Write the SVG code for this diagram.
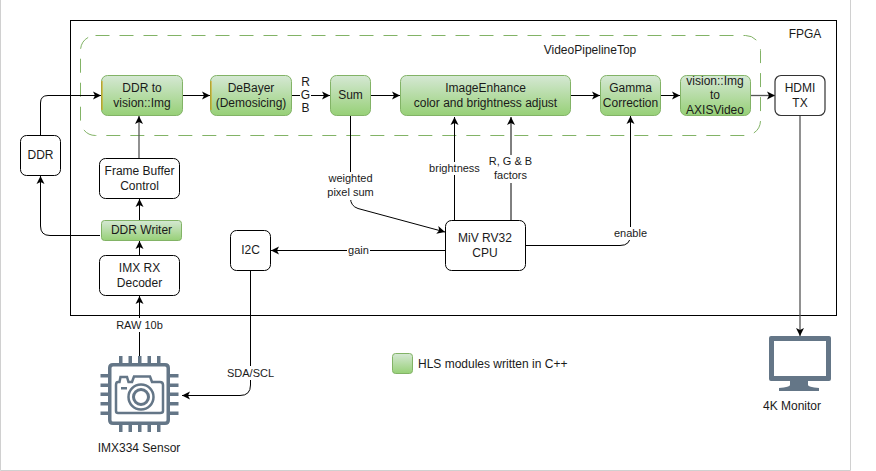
<svg xmlns="http://www.w3.org/2000/svg" width="876" height="471" viewBox="0 0 876 471">
<style>
text{font-family:"Liberation Sans",Arial,sans-serif;font-size:12px;fill:#1a1a1a;text-anchor:middle}
.s{font-size:11px}
.w{fill:#fff;stroke:#000;stroke-width:1}
.g{fill:url(#gr);stroke:#82b366;stroke-width:1}
.c{fill:none;stroke:#000;stroke-width:1;marker-end:url(#a)}
.cg{fill:none;stroke:#555;stroke-width:1.3;marker-end:url(#a)}
.lb{fill:#fff;stroke:none}
.ic{fill:#647687}
.o{fill:none;stroke:#d79b00;stroke-width:1}
</style>
<defs>
<linearGradient id="gr" x1="0" y1="0" x2="0" y2="1"><stop offset="0" stop-color="#d5e8d4"/><stop offset="1" stop-color="#97d077"/></linearGradient>
<marker id="a" markerUnits="userSpaceOnUse" markerWidth="10" markerHeight="10" refX="8" refY="4.5" orient="auto"><path d="M0,0.5 L8,4.5 L0,8.5 L2,4.5 Z" fill="#000"/></marker>
</defs>
<rect width="876" height="471" fill="#fff"/>
<path d="M0.5,0 V470.5 H850.5 V0" fill="none" stroke="#d0d0d0"/>
<g id="fpga"><rect x="70.500" y="20.500" width="766" height="295" fill="#fff" stroke="#000"/><text x="805" y="38">FPGA</text></g>
<g id="pipeline"><rect x="80.500" y="35.500" width="680" height="100" rx="15" fill="none" stroke="#82b366" stroke-dasharray="14 10"/><text x="590" y="53.500">VideoPipelineTop</text></g>
<g id="connectors">
<path class="c" d="M40.500,135 V103 Q40.500,95.500 48,95.500 H101"/>
<path class="c" d="M100,235.500 H50 Q40.500,235.500 40.500,226 V176"/>
<path class="cg" d="M139,158 V116"/>
<path class="c" d="M139.500,220 V199"/>
<path class="c" d="M139.500,255 V241"/>
<path class="c" d="M139.500,356 V296"/>
<path class="c" d="M182.500,95.500 H210"/>
<path class="c" d="M291.500,95.500 H330"/>
<path class="c" d="M370.500,95.500 H400"/>
<path class="c" d="M570.500,95.500 H600"/>
<path class="c" d="M660.500,95.500 H680"/>
<path class="cg" d="M750.500,95.500 H775"/>
<path class="cg" d="M800,115.500 V336"/>
<path class="c" d="M350.500,115.500 V198 Q350.500,206 358,208.500 L445,232"/>
<path class="c" d="M454.500,220 V117"/>
<path class="c" d="M511,220 V117"/>
<path class="c" d="M525.500,245.500 H620 Q630.500,245.500 630.500,235 V116"/>
<path class="c" d="M445,250.500 H271"/>
<path class="c" d="M250.500,270.500 V385 Q250.500,395.500 240,395.500 H182"/>
</g>
<g id="edge-labels">
<rect class="lb" x="300" y="76" width="11" height="37"/>
<text x="305.500" y="86">R</text><text x="305.500" y="99">G</text><text x="305.500" y="112">B</text>
<rect class="lb" x="326" y="172" width="50" height="28"/>
<text class="s" x="350.500" y="182">weighted</text><text class="s" x="350.500" y="196">pixel sum</text>
<rect class="lb" x="428" y="162" width="54" height="13"/>
<text class="s" x="454.500" y="172">brightness</text>
<rect class="lb" x="487" y="155" width="48" height="28"/>
<text class="s" x="510.500" y="165">R, G &amp; B</text><text class="s" x="510.500" y="179">factors</text>
<rect class="lb" x="613" y="227" width="35" height="13"/>
<text class="s" x="630.500" y="237">enable</text>
<rect class="lb" x="347" y="244" width="23" height="13"/>
<text class="s" x="358.500" y="254">gain</text>
<rect class="lb" x="116" y="318" width="48" height="14"/>
<text class="s" x="139.500" y="329">RAW 10b</text>
<rect class="lb" x="226" y="366" width="50" height="14"/>
<text class="s" x="250.500" y="377">SDA/SCL</text>
</g>
<g id="ddr-to-img"><rect class="g" x="101.500" y="75.500" width="81" height="40" rx="6"/><path class="o" d="M102,110 V81"/><text x="142" y="92">DDR to</text><text x="142" y="107">vision::Img</text></g>
<g id="debayer"><rect class="g" x="210.500" y="75.500" width="81" height="40" rx="6"/><path class="o" d="M211,110 V81"/><text x="251" y="92">DeBayer</text><text x="251" y="107">(Demosicing)</text></g>
<g id="sum"><rect class="g" x="330.500" y="75.500" width="40" height="40" rx="6"/><text x="350.500" y="99">Sum</text></g>
<g id="image-enhance"><rect class="g" x="400.500" y="75.500" width="170" height="40" rx="6"/><text x="485.500" y="92">ImageEnhance</text><text x="485.500" y="107">color and brightness adjust</text></g>
<g id="gamma"><rect class="g" x="600.500" y="75.500" width="60" height="40" rx="6"/><text x="630.500" y="92">Gamma</text><text x="630.500" y="107">Correction</text></g>
<g id="img-to-axis"><rect class="g" x="680.500" y="75.500" width="70" height="40" rx="6"/><text x="715" y="85">vision::Img</text><text x="715" y="99">to</text><text x="715" y="114">AXISVideo</text></g>
<g id="hdmi"><rect class="w" x="775" y="75.500" width="50" height="40" rx="6" style="stroke:#333;stroke-width:1.2"/><text x="800" y="92">HDMI</text><text x="800" y="107">TX</text></g>
<g id="ddr"><rect class="w" x="20.500" y="135.500" width="40" height="40" rx="6"/><text x="40.500" y="159">DDR</text></g>
<g id="frame-buffer"><rect class="w" x="99.500" y="158.500" width="80" height="40" rx="6"/><text x="139.500" y="175">Frame Buffer</text><text x="139.500" y="190">Control</text></g>
<g id="ddr-writer"><rect class="g" x="101.500" y="220.500" width="80" height="20" rx="3"/><text x="141.500" y="234">DDR Writer</text></g>
<g id="imx-rx"><rect class="w" x="99.500" y="255.500" width="80" height="40" rx="6"/><text x="139.500" y="272">IMX RX</text><text x="139.500" y="287">Decoder</text></g>
<g id="i2c"><rect class="w" x="230.500" y="230.500" width="40" height="40" rx="6"/><text x="250.500" y="254">I2C</text></g>
<g id="cpu"><rect class="w" x="445.500" y="220.500" width="80" height="50" rx="6"/><text x="485" y="242">MiV RV32</text><text x="485" y="257">CPU</text></g>
<g id="sensor">
<path class="ic" fill-rule="evenodd" d="M113,363 H165 Q170,363 170,368 V420 Q170,425 165,425 H113 Q108,425 108,420 V368 Q108,363 113,363 Z M113,366.500 Q111.500,366.500 111.500,368 V420 Q111.500,421.500 113,421.500 H165 Q166.500,421.500 166.500,420 V368 Q166.500,366.500 165,366.500 Z"/>
<path class="ic" d="M119,356h3.500v7h-3.500z M128.500,356h3.500v7h-3.500z M138,356h3.500v7h-3.500z M147.500,356h3.500v7h-3.500z M157,356h3.500v7h-3.500z M119,425h3.500v7h-3.500z M128.500,425h3.500v7h-3.500z M138,425h3.500v7h-3.500z M147.500,425h3.500v7h-3.500z M157,425h3.500v7h-3.500z M100.500,374h7.500v3.500h-7.500z M100.500,383.500h7.500v3.500h-7.500z M100.500,392.500h7.500v3.500h-7.500z M100.500,402h7.500v3.500h-7.500z M100.500,411.500h7.500v3.500h-7.500z M170,374h8.500v3.500h-8.500z M170,383.500h8.500v3.500h-8.500z M170,392.500h8.500v3.500h-8.500z M170,402h8.500v3.500h-8.500z M170,411.500h8.500v3.500h-8.500z"/>
<path fill="none" stroke="#647687" stroke-width="2.500" d="M118,382 H119.500 L120.500,377 H127 L128.500,382 H132 L134,376.500 H150 L152,382 H160 Q163,382 163,385 V411 Q163,413 160,413 H118 Q116,413 116,411 V385 Q116,382 118,382 Z"/>
<path class="ic" d="M121,387h6v2.500h-6z"/>
<circle cx="141" cy="397" r="12.500" fill="#fff" stroke="#647687" stroke-width="2.500"/>
<circle cx="141" cy="397" r="7.500" fill="#fff" stroke="#647687" stroke-width="3"/>
<text x="139" y="452">IMX334 Sensor</text>
</g>
<g id="monitor">
<path class="ic" fill-rule="evenodd" d="M771,336 H829 Q831,336 831,338 V379 Q831,381 829,381 H808 V385 Q808,387 819,388 V391 H779 V388 Q790,387 790,385 V381 H771 Q769,381 769,379 V338 Q769,336 771,336 Z M774,341 V376 H826 V341 Z"/>
<text x="792" y="410">4K Monitor</text>
</g>
<g id="legend"><rect class="g" x="392.500" y="353.500" width="20" height="20" rx="3"/><text x="418" y="367.500" style="text-anchor:start">HLS modules written in C++</text></g>
</svg>
